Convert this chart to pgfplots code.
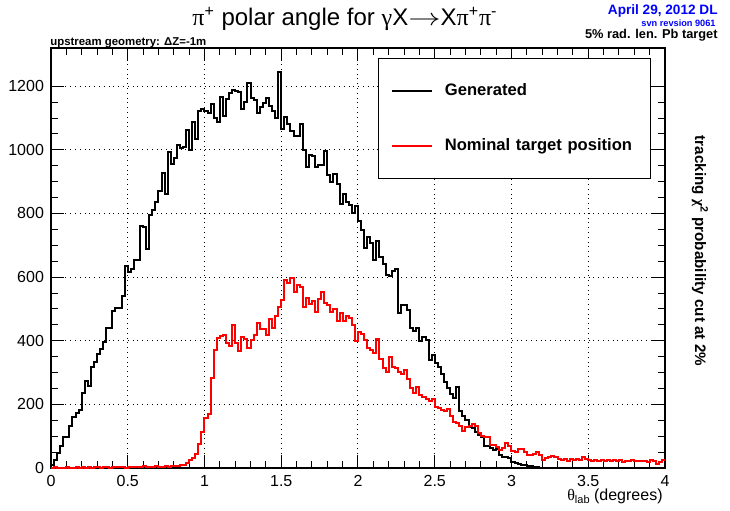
\documentclass[border=0pt]{standalone}
\usepackage{fontspec}
\setmainfont{Liberation Sans}
\newfontfamily\grk{Liberation Serif}
\usepackage{pgfplots}
\usepackage{pgfplotstable}
\pgfplotsset{compat=1.18}

% pi+ polar angle, 0.02 degree bins (left bin edge, counts); last row closes the final bin
\pgfplotstableread{
x y
0.00 10
0.02 26
0.04 47
0.06 68
0.08 97
0.10 97
0.12 133
0.14 160
0.16 173
0.18 181
0.20 235
0.22 275
0.24 259
0.26 319
0.28 332
0.30 359
0.32 374
0.34 397
0.36 441
0.38 441
0.40 493
0.42 504
0.44 504
0.46 540
0.48 635
0.50 617
0.52 624
0.54 653
0.56 653
0.58 762
0.60 758
0.62 689
0.64 795
0.66 812
0.68 836
0.70 871
0.72 928
0.74 862
0.76 993
0.78 957
0.80 975
0.82 1014
0.84 1007
0.86 1009
0.88 1061
0.90 1000
0.92 1087
0.94 1033
0.96 1122
0.98 1127
1.00 1122
1.02 1115
1.04 1143
1.06 1101
1.08 1087
1.10 1166
1.12 1105
1.14 1160
1.16 1179
1.18 1189
1.20 1185
1.22 1181
1.24 1127
1.26 1150
1.28 1210
1.30 1164
1.32 1157
1.34 1117
1.36 1134
1.38 1148
1.40 1164
1.42 1137
1.44 1122
1.46 1101
1.48 1244
1.50 1064
1.52 1103
1.54 1082
1.56 1059
1.58 1045
1.60 1045
1.62 1082
1.64 998
1.66 946
1.68 983
1.70 980
1.72 946
1.74 951
1.76 951
1.78 996
1.80 920
1.82 899
1.84 923
1.86 892
1.88 829
1.90 860
1.92 836
1.94 826
1.96 800
1.98 823
2.00 777
2.02 748
2.04 693
2.06 725
2.08 706
2.10 653
2.12 714
2.14 662
2.16 640
2.18 606
2.20 603
2.22 620
2.24 624
2.26 486
2.28 512
2.30 512
2.32 496
2.34 440
2.36 430
2.38 440
2.40 400
2.42 412
2.44 402
2.46 340
2.48 355
2.50 330
2.52 318
2.54 297
2.56 271
2.58 253
2.60 232
2.62 220
2.64 256
2.66 180
2.68 165
2.70 150
2.72 130
2.74 125
2.76 114
2.78 104
2.80 98
2.82 70
2.84 70
2.86 62
2.88 58
2.90 60
2.92 42
2.94 36
2.96 36
2.98 33
3.00 20
3.02 17
3.04 13
3.06 10
3.08 9
3.10 7
3.12 5
3.14 4
3.16 2
3.18 1
3.20 0
4.00 0
}\generated

\pgfplotstableread{
x y
0.00 0
0.02 2
0.04 0
0.06 1
0.08 0
0.10 2
0.12 1
0.14 0
0.16 2
0.18 1
0.20 3
0.22 1
0.24 2
0.26 0
0.28 2
0.30 3
0.32 1
0.34 2
0.36 3
0.38 1
0.40 2
0.42 4
0.44 2
0.46 3
0.48 1
0.50 3
0.52 2
0.54 4
0.56 2
0.58 3
0.60 5
0.62 3
0.64 4
0.66 2
0.68 5
0.70 3
0.72 4
0.74 6
0.76 4
0.78 5
0.80 6
0.82 5
0.84 8
0.86 10
0.88 16
0.90 26
0.92 31
0.94 45
0.96 77
0.98 112
1.00 158
1.02 171
1.04 282
1.06 372
1.08 410
1.10 415
1.12 418
1.14 392
1.16 385
1.18 450
1.20 392
1.22 368
1.24 411
1.26 405
1.28 376
1.30 402
1.32 418
1.34 457
1.36 438
1.38 436
1.40 418
1.42 467
1.44 439
1.46 478
1.48 507
1.50 528
1.52 591
1.54 580
1.56 596
1.58 552
1.60 575
1.62 570
1.64 507
1.66 533
1.68 515
1.70 526
1.72 491
1.74 530
1.76 554
1.78 520
1.80 512
1.82 491
1.84 499
1.86 462
1.88 488
1.90 463
1.92 479
1.94 470
1.96 450
1.98 400
2.00 426
2.02 421
2.04 403
2.06 376
2.08 371
2.10 360
2.12 407
2.14 344
2.16 313
2.18 303
2.20 348
2.22 318
2.24 313
2.26 303
2.28 297
2.30 308
2.32 279
2.34 250
2.36 237
2.38 255
2.40 229
2.42 222
2.44 216
2.46 212
2.48 216
2.50 193
2.52 188
2.54 181
2.56 178
2.58 185
2.60 162
2.62 146
2.64 141
2.66 133
2.68 115
2.70 128
2.72 133
2.74 139
2.76 131
2.78 110
2.80 101
2.82 96
2.84 96
2.86 72
2.88 72
2.90 67
2.92 57
2.94 62
2.96 80
2.98 70
3.00 54
3.02 51
3.04 59
3.06 59
3.08 51
3.10 41
3.12 41
3.14 44
3.16 51
3.18 41
3.20 25
3.22 30
3.24 34
3.26 38
3.28 34
3.30 27
3.32 25
3.34 27
3.36 23
3.38 29
3.40 25
3.42 29
3.44 25
3.46 34
3.48 27
3.50 25
3.52 23
3.54 26
3.56 22
3.58 24
3.60 22
3.62 26
3.64 23
3.66 24
3.68 21
3.70 24
3.72 20
3.74 23
3.76 22
3.78 24
3.80 21
3.82 23
3.84 22
3.86 21
3.88 20
3.90 24
3.92 22
3.94 14
3.96 19
3.98 25
4.00 25
}\nominal

\begin{document}
\begin{tikzpicture}
\begin{axis}[
  scale only axis, width=307pt, height=210pt,
  xmin=0, xmax=4, ymin=0, ymax=1320,
  xtick={0,0.5,1,1.5,2,2.5,3,3.5,4},
  ytick={0,200,400,600,800,1000,1200},
  minor x tick num=4, minor y tick num=3,
  tick align=inside,
  major tick length=6.5pt, minor tick length=3.5pt,
  every tick/.style={black, line width=0.5pt},
  grid=major,
  major grid style={black, dotted, line width=0.5pt},
  axis line style={line width=0.6pt},
  ticklabel style={font=\fontsize{8}{9}\selectfont},
  /pgf/number format/assume math mode=true,
  /pgf/number format/1000 sep={},
  legend cell align=left,
  legend image code/.code={\draw[#1] (0pt,0pt) -- (20pt,0pt);},
  legend style={at={(0.533,0.976)}, anchor=north west, draw=black,
    line width=0.6pt, fill=white, font=\bfseries\fontsize{8.3}{10}\selectfont,
    inner xsep=6pt, inner ysep=10.5pt, row sep=16pt, column sep=4pt,
    nodes={text width=95pt}},
]
\addplot[const plot, black, line width=1pt] table {\generated};
\addlegendentry{Generated}
\addplot[const plot, red, line width=1pt] table {\nominal};
\addlegendentry{Nominal target position}
\end{axis}

% title and annotations
\node[font=\fontsize{12}{14}\selectfont, inner sep=0pt] at (147pt,224.5pt)
  {{\grk π}\textsuperscript{+} polar angle for {\grk γ}X\scalebox{1.35}[1]{$\rightarrow$}X{\grk π}\textsuperscript{+}{\grk π}\textsuperscript{-}};
\node[anchor=west, font=\bfseries\fontsize{5.7}{7}\selectfont, inner sep=0pt] at (-0.5pt,212.5pt)
  {upstream geometry: ΔZ=-1m};
\node[anchor=east, font=\bfseries\fontsize{6.8}{8}\selectfont, text=blue, inner sep=0pt] at (333.5pt,228.5pt)
  {April 29, 2012 DL};
\node[anchor=east, font=\bfseries\fontsize{4.6}{5}\selectfont, text=blue, inner sep=0pt] at (332.5pt,222.5pt)
  {svn revsion 9061};
\node[anchor=east, font=\bfseries\fontsize{6.4}{7}\selectfont, inner sep=0pt] at (333.5pt,216.5pt)
  {5\% rad. len. Pb target};
\node[rotate=-90, font=\bfseries\fontsize{7.6}{9}\selectfont, inner sep=0pt] at (324.5pt,108.5pt)
  {tracking {\grk χ}\textsuperscript{2} probability cut at 2\%};
\node[anchor=east, font=\fontsize{8}{9}\selectfont, inner sep=0pt] at (306pt,-14pt)
  {{\grk θ}\raisebox{-0.35ex}{\fontsize{5.5}{6}\selectfont lab} (degrees)};

\pgfresetboundingbox
\useasboundingbox (-25.5pt,-21pt) rectangle (339.5pt,234pt);
\end{tikzpicture}
\end{document}
